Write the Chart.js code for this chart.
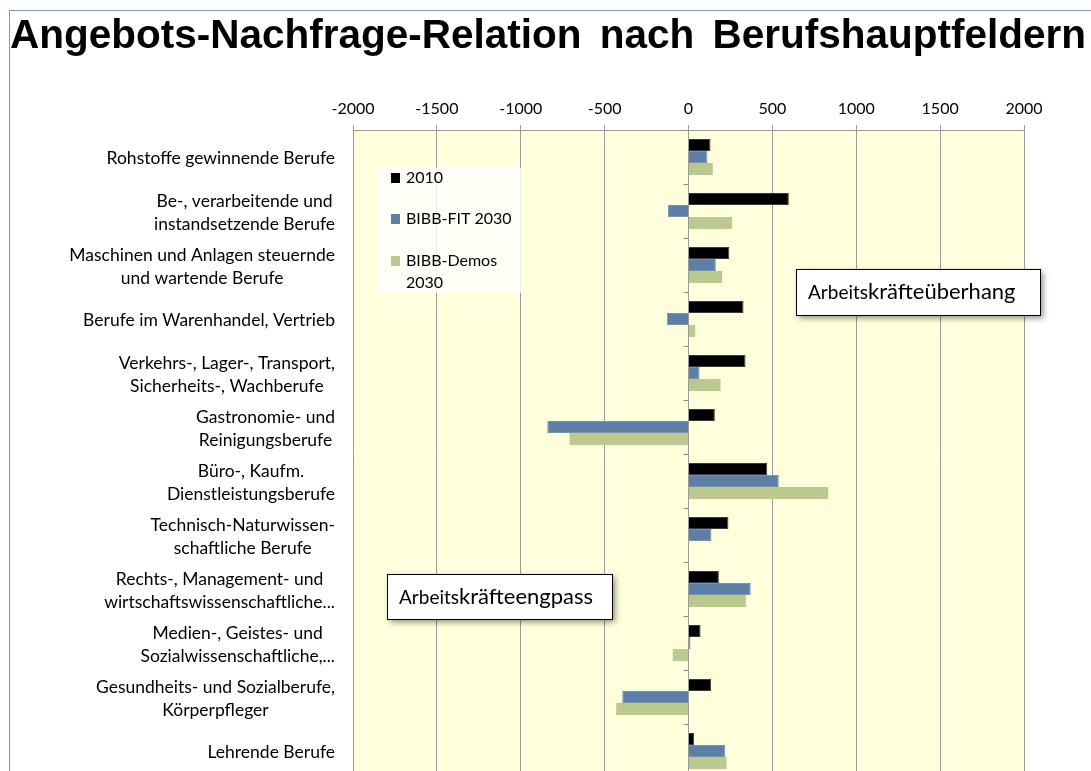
<!DOCTYPE html>
<html>
<head>
<meta charset="utf-8">
<script src="https://cdn.jsdelivr.net/npm/chart.js@4.4.1/dist/chart.umd.min.js"></script>
<style>
  html, body { margin: 0; padding: 0; background: #fff; overflow: hidden; }
  #wrap { position: relative; width: 1091px; height: 771px; overflow: hidden; }
  #frame { position: absolute; left: 9px; top: 10px; right: -5px; bottom: -5px; border-left: 1px solid #7d99c4; border-top: 1px solid #7d99c4; pointer-events: none; }
  canvas { position: absolute; left: 0; top: 0; }
</style>
</head>
<body>
<div id="wrap">
  <canvas id="chart" width="1091" height="780"></canvas>
  <div id="frame"></div>
</div>
<script>
// categories (Berufshauptfelder), multi-line as in the original axis
const categories = [
  ['Rohstoffe gewinnende Berufe'],
  ['Be-, verarbeitende und', 'instandsetzende Berufe'],
  ['Maschinen und Anlagen steuernde', 'und wartende Berufe'],
  ['Berufe im Warenhandel, Vertrieb'],
  ['Verkehrs-, Lager-, Transport,', 'Sicherheits-, Wachberufe'],
  ['Gastronomie- und', 'Reinigungsberufe'],
  ['Büro-, Kaufm.', 'Dienstleistungsberufe'],
  ['Technisch-Naturwissen-', 'schaftliche Berufe'],
  ['Rechts-, Management- und', 'wirtschaftswissenschaftliche...'],
  ['Medien-, Geistes- und', 'Sozialwissenschaftliche,...'],
  ['Gesundheits- und Sozialberufe,', 'Körperpfleger'],
  ['Lehrende Berufe']
];

// series values
const values2010   = [131, 598, 243, 328, 340, 157, 469, 238, 181, 72, 135, 34];
const valuesFit    = [113, -123, 163, -129, 66, -842, 538, 137, 371, 12, -395, 219];
const valuesDemos  = [145, 260, 201, 40, 191, -709, 833, 0, 342, -94, -431, 227];

const seriesNames = ['2010', 'BIBB-FIT 2030', 'BIBB-Demos 2030'];
const seriesColors = ['#000000', '#5e7fa5', '#bcc98e'];

const xMin = -2000, xMax = 2000, xStep = 500;

const titleText = 'Angebots-Nachfrage-Relation nach Berufshauptfeldern';
const labelFont = '17.5px Lato';
const legendFont = '16px Lato';

// plot background + title + frame decorations
const decoPlugin = {
  id: 'deco',
  beforeDraw(chart) {
    const { ctx, chartArea: a } = chart;
    ctx.save();
    ctx.fillStyle = '#ffffdc';
    ctx.fillRect(a.left, a.top, a.right - a.left, a.bottom - a.top);
    ctx.restore();
  },
  afterDatasetsDraw(chart) {
    const { ctx } = chart;
    const x = chart.scales.x, y = chart.scales.y;
    const x0 = x.getPixelForValue(0);
    // small tick marks on the zero axis between categories
    ctx.save();
    ctx.strokeStyle = '#8c8c8c';
    ctx.lineWidth = 1;
    for (let i = 0; i <= categories.length; i++) {
      const py = Math.round(y.getPixelForValue(i - 0.5)) + 0.5;
      ctx.beginPath();
      ctx.moveTo(x0 - 5, py);
      ctx.lineTo(x0, py);
      ctx.stroke();
    }
    ctx.restore();
  },
  afterDraw(chart) {
    const { ctx } = chart;
    const y = chart.scales.y;

    // title
    ctx.save();
    ctx.fillStyle = '#000';
    ctx.font = 'bold 40.5px "Liberation Sans", Arial, sans-serif';
    ctx.wordSpacing = '7px';
    ctx.textAlign = 'center';
    ctx.textBaseline = 'middle';
    ctx.fillText(titleText, 548, 37);
    ctx.restore();

    // category labels: block right aligned, lines centred inside the block
    ctx.save();
    ctx.font = labelFont;
    ctx.fillStyle = '#000';
    ctx.textAlign = 'center';
    ctx.textBaseline = 'middle';
    const right = 335, lineH = 23;
    categories.forEach((lines, i) => {
      const cy = y.getPixelForValue(i) + 1.5;
      const w = Math.max(...lines.map(l => ctx.measureText(l).width));
      const cx = right - w / 2;
      const y0 = cy - (lines.length - 1) * lineH / 2;
      lines.forEach((l, k) => ctx.fillText(l, cx, y0 + k * lineH));
    });
    ctx.restore();

    // legend box inside the plot
    ctx.save();
    ctx.fillStyle = 'rgba(255,255,255,0.8)';
    ctx.fillRect(378, 168, 143, 125);
    ctx.font = legendFont;
    ctx.textBaseline = 'middle';
    const rows = [[178], [219], [261, 283]];
    const legendLines = [['2010'], ['BIBB-FIT 2030'], ['BIBB-Demos', '2030']];
    chart.data.datasets.forEach((ds, i) => {
      ctx.fillStyle = ds.backgroundColor;
      ctx.fillRect(391, rows[i][0] - 5, 9, 10);
      ctx.fillStyle = '#000';
      legendLines[i].forEach((t, k) => ctx.fillText(t, 406, rows[i][k]));
    });
    ctx.restore();

    // annotation boxes
    drawNote(ctx, 796, 269, 244, 46, 'Arbeits', 'kräfteüberhang');
    drawNote(ctx, 387, 574, 225, 45, 'Arbeits', 'kräfteengpass');
  }
};

function drawNote(ctx, bx, by, bw, bh, small, big) {
  ctx.save();
  ctx.shadowColor = 'rgba(0,0,0,0.45)';
  ctx.shadowBlur = 6;
  ctx.shadowOffsetX = 3;
  ctx.shadowOffsetY = 3;
  ctx.fillStyle = '#fff';
  ctx.fillRect(bx, by, bw, bh);
  ctx.shadowColor = 'transparent';
  ctx.strokeStyle = '#000';
  ctx.lineWidth = 1;
  ctx.strokeRect(bx + 0.5, by + 0.5, bw, bh);
  ctx.fillStyle = '#000';
  ctx.textBaseline = 'alphabetic';
  const base = by + bh / 2 + 7;
  ctx.font = '19px Lato';
  ctx.fillText(small, bx + 12, base);
  const w = ctx.measureText(small).width;
  ctx.font = '22px Lato';
  ctx.fillText(big, bx + 12 + w, base);
  ctx.restore();
}

const ctx = document.getElementById('chart').getContext('2d');
new Chart(ctx, {
  type: 'bar',
  data: {
    labels: categories,
    datasets: [
      { label: seriesNames[0], data: values2010, backgroundColor: seriesColors[0], borderColor: '#3a3a3a', borderWidth: 1 },
      { label: seriesNames[1], data: valuesFit, backgroundColor: seriesColors[1], borderColor: '#7393b9', borderWidth: 1 },
      { label: seriesNames[2], data: valuesDemos, backgroundColor: seriesColors[2], borderWidth: 0 }
    ]
  },
  options: {
    indexAxis: 'y',
    responsive: false,
    animation: false,
    devicePixelRatio: 1,
    layout: { padding: { top: 0, left: 0, right: 67, bottom: 2 } },
    datasets: { bar: { barPercentage: 1, categoryPercentage: 0.667 } },
    plugins: {
      legend: { display: false },
      title: { display: false },
      tooltip: { enabled: false }
    },
    scales: {
      x: {
        position: 'top',
        min: xMin,
        max: xMax,
        ticks: {
          stepSize: xStep,
          color: '#000',
          font: { family: 'Lato', size: 16 },
          padding: 7,
          callback: (v) => String(v)
        },
        grid: { color: '#9a9a9a', tickLength: 5, lineWidth: 1 },
        border: { color: '#9a9a9a' },
        afterFit(scale) { scale.height = 130; }
      },
      y: {
        ticks: { display: false },
        grid: { display: false },
        border: { display: false },
        afterFit(scale) { scale.width = 353; }
      }
    }
  },
  plugins: [decoPlugin]
});
</script>
</body>
</html>
